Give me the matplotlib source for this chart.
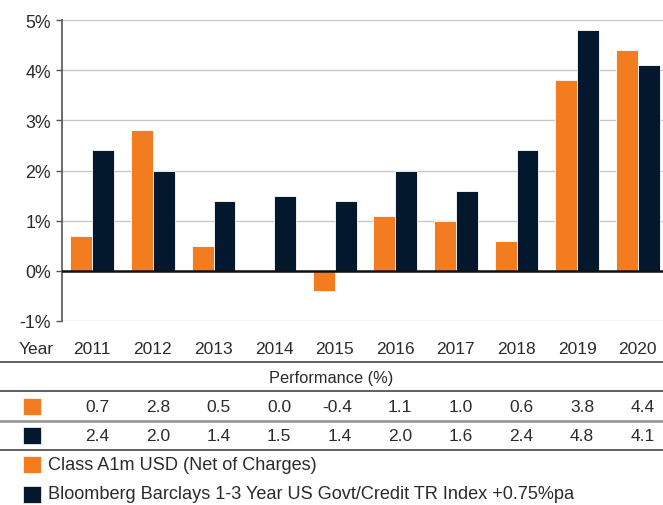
import matplotlib

matplotlib.use("Agg")
import matplotlib.pyplot as plt
from matplotlib import transforms
from matplotlib.patches import Rectangle

years = ["2011", "2012", "2013", "2014", "2015", "2016", "2017", "2018", "2019", "2020"]
fund = [0.7, 2.8, 0.5, 0.0, -0.4, 1.1, 1.0, 0.6, 3.8, 4.4]
index = [2.4, 2.0, 1.4, 1.5, 1.4, 2.0, 1.6, 2.4, 4.8, 4.1]
fund_label = "Class A1m USD (Net of Charges)"
index_label = "Bloomberg Barclays 1-3 Year US Govt/Credit TR Index +0.75%pa"
y_ticks = [-1, 0, 1, 2, 3, 4, 5]

ORANGE = "#f47c20"
NAVY = "#03172d"
TEXT = "#2b2b2b"

plt.rcParams["font.family"] = ["Liberation Sans", "DejaVu Sans"]

W, H = 663, 506
fig = plt.figure(figsize=(W / 100, H / 100), dpi=100)


def fy(py):
    # pixel row (from top) -> figure fraction
    return 1 - py / H


# axes runs a bit past the right edge of the image, like the reference
ax_left, ax_right = 62, 668
ax = fig.add_axes([ax_left / W, fy(322), (ax_right - ax_left) / W, fy(21) - fy(322)])

x = list(range(len(years)))
bw = 0.36
ax.bar([i - bw / 2 for i in x], fund, width=bw, color=ORANGE, edgecolor="white", linewidth=0.6, zorder=3)
ax.bar([i + bw / 2 for i in x], index, width=bw, color=NAVY, edgecolor="white", linewidth=0.6, zorder=3)

ax.set_xlim(-0.5, len(years) - 0.5)
ax.set_ylim(-1, 5)
ax.set_yticks(y_ticks)
ax.set_yticklabels([f"{t}%" for t in y_ticks], fontsize=12.8, color=TEXT)
ax.set_xticks([])
ax.tick_params(axis="y", length=4, width=1, color="#555555", pad=4)
ax.grid(axis="y", color="#c8c8c8", linewidth=1, zorder=0)
ax.axhline(0, color="#111111", linewidth=1.8, zorder=4)
for side in ("top", "right", "bottom"):
    ax.spines[side].set_visible(False)
ax.spines["left"].set_color("#555555")
ax.spines["left"].set_linewidth(1.2)

# table below the chart: x in data units, y in figure fraction
tr = transforms.blended_transform_factory(ax.transData, fig.transFigure)
fs = 12.5

fig.text(36 / W, fy(350), "Year", ha="center", va="center", fontsize=fs, color=TEXT)
for i, yr in enumerate(years):
    ax.text(i, fy(350), yr, transform=tr, ha="center", va="center", fontsize=fs, color=TEXT, clip_on=False)
    ax.text(i + 0.28, fy(408), f"{fund[i]:.1f}", transform=tr, ha="right", va="center",
            fontsize=fs, color=TEXT, clip_on=False)
    ax.text(i + 0.28, fy(437), f"{index[i]:.1f}", transform=tr, ha="right", va="center",
            fontsize=fs, color=TEXT, clip_on=False)

fig.text(0.5, fy(378), "Performance (%)", ha="center", va="center", fontsize=11.8, color=TEXT)

for py, col, lw in ((363, "#444444", 1.2), (392, "#444444", 1.2), (422, "#9a9a9a", 2.0), (451, "#444444", 1.2)):
    fig.add_artist(plt.Line2D([0, 1], [fy(py), fy(py)], color=col, linewidth=lw, transform=fig.transFigure))

# swatches in the table and the legend
for py, col in ((407, ORANGE), (436.5, NAVY), (465.5, ORANGE), (495, NAVY)):
    fig.add_artist(Rectangle((23 / W, fy(py + 8.5)), 18 / W, 17 / H, transform=fig.transFigure,
                             facecolor=col, edgecolor="white", linewidth=0.5))

fig.text(48 / W, fy(466), fund_label, ha="left", va="center", fontsize=13.1, color=TEXT)
fig.text(48 / W, fy(495), index_label, ha="left", va="center", fontsize=13.1, color=TEXT)

fig.savefig("out.png", dpi=100)
